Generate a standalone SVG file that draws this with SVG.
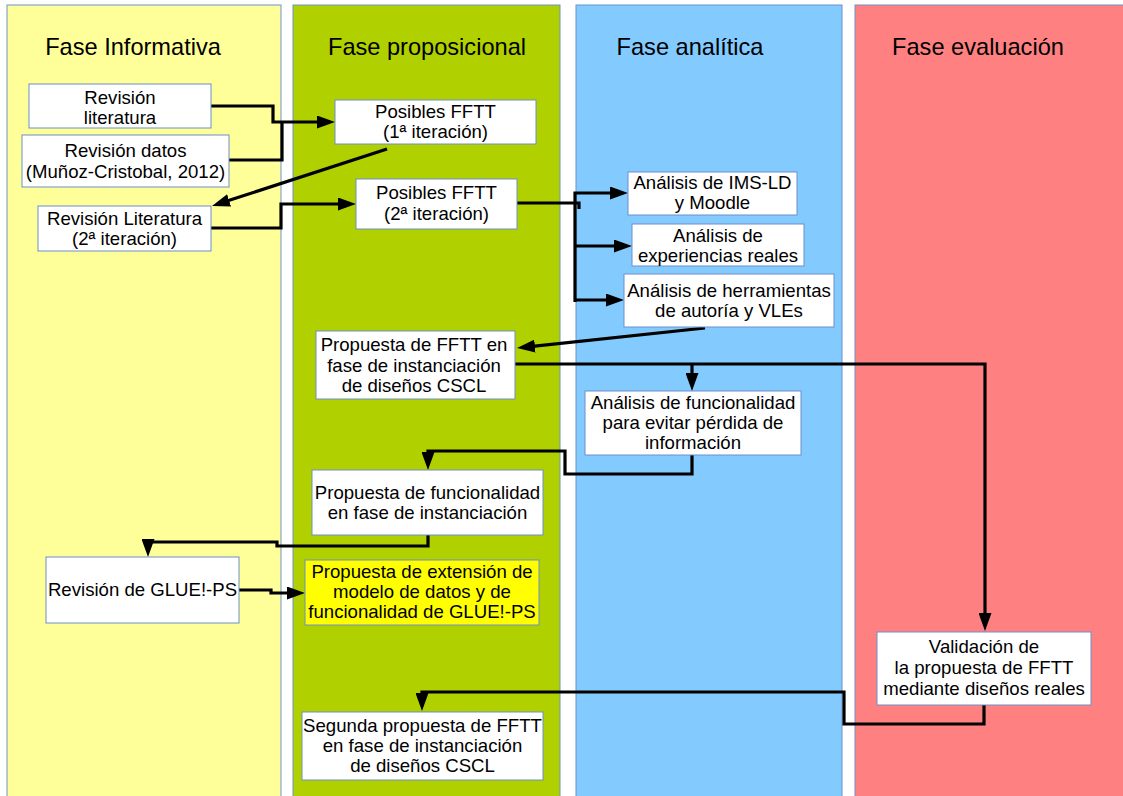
<svg xmlns="http://www.w3.org/2000/svg" width="1123" height="796" viewBox="0 0 1123 796">
  <style>
    .lane { stroke: #6d93cc; stroke-width: 1; }
    .title { font-family: "Liberation Sans", Arial, sans-serif; font-size: 23.6px; fill: #000; text-anchor: middle; }
    .box { fill: #ffffff; stroke: #6d8fc9; stroke-width: 1; }
    .box.hl { fill: #ffff00; }
    .lbl { font-family: "Liberation Sans", Arial, sans-serif; font-size: 18.6px; fill: #000; text-anchor: middle; }
    .wire { fill: none; stroke: #000; stroke-width: 3.2; stroke-linejoin: miter; }
    .wire.arr { marker-end: url(#head); }
  </style>
  <defs>
    <marker id="head" viewBox="0 0 18 13" refX="12" refY="6.5" markerWidth="18" markerHeight="13" markerUnits="userSpaceOnUse" orient="auto">
      <path d="M0,0 L18,6.5 L0,13 z" fill="#000"/>
    </marker>
  </defs>

  <rect width="1123" height="796" fill="#ffffff"/>

  <!-- swimlanes -->
  <g id="lanes">
    <rect class="lane" x="7" y="5" width="274" height="800" fill="#ffff99"/>
    <rect class="lane" x="293" y="5" width="267" height="800" fill="#b0d000"/>
    <rect class="lane" x="576" y="5" width="266" height="800" fill="#83caff"/>
    <rect class="lane" x="855" y="5" width="275" height="800" fill="#ff8080"/>
    <text class="title" x="133" y="55">Fase Informativa</text>
    <text class="title" x="427" y="55">Fase proposicional</text>
    <text class="title" x="690" y="55">Fase analítica</text>
    <text class="title" x="978" y="55">Fase evaluación</text>
  </g>

  <!-- connectors -->
  <g id="connectors">
    <path class="wire arr" d="M211,106 H273 V122 H329"/>
    <path class="wire" d="M229,160 H282 V122"/>
    <path class="wire arr" d="M387,149 L217.7,204.1"/>
    <path class="wire arr" d="M211,228 H281 V204 H350"/>
    <path class="wire" d="M517,203 H579 V209"/>
    <path class="wire arr" d="M575,302 V193 H622"/>
    <path class="wire arr" d="M575,246 H626"/>
    <path class="wire arr" d="M575,300 H618"/>
    <path class="wire arr" d="M705,328 L523,347.4"/>
    <path class="wire arr" d="M515,364 H985 V625"/>
    <path class="wire arr" d="M692,364 V385"/>
    <path class="wire arr" d="M692,455 V474 H565 V451 H428 V464"/>
    <path class="wire arr" d="M428,535 V546 H277 V542 H148 V551"/>
    <path class="wire arr" d="M239,590 H271 V593 H299"/>
    <path class="wire arr" d="M984,705 V724 H844 V692 H422 V705"/>
  </g>

  <!-- nodes -->
  <g id="rev-literatura">
    <rect class="box" x="29" y="84" width="182" height="44"/>
    <text class="lbl" x="120" y="104">Revisión</text>
    <text class="lbl" x="120" y="124">literatura</text>
  </g>
  <g id="rev-datos">
    <rect class="box" x="22" y="135" width="207" height="52"/>
    <text class="lbl" x="125.5" y="157">Revisión datos</text>
    <text class="lbl" x="125.5" y="178">(Muñoz-Cristobal, 2012)</text>
  </g>
  <g id="rev-literatura-2">
    <rect class="box" x="38" y="206" width="173" height="45"/>
    <text class="lbl" x="124.5" y="225">Revisión Literatura</text>
    <text class="lbl" x="124.5" y="245">(2ª iteración)</text>
  </g>
  <g id="fftt-1">
    <rect class="box" x="335" y="100" width="201" height="44"/>
    <text class="lbl" x="435.5" y="118">Posibles FFTT</text>
    <text class="lbl" x="435.5" y="138">(1ª iteración)</text>
  </g>
  <g id="fftt-2">
    <rect class="box" x="356" y="179" width="161" height="50"/>
    <text class="lbl" x="436.5" y="199">Posibles FFTT</text>
    <text class="lbl" x="436.5" y="220">(2ª iteración)</text>
  </g>
  <g id="analisis-imsld">
    <rect class="box" x="628" y="172" width="169" height="43"/>
    <text class="lbl" x="712.5" y="189">Análisis de IMS-LD</text>
    <text class="lbl" x="712.5" y="209">y Moodle</text>
  </g>
  <g id="analisis-experiencias">
    <rect class="box" x="632" y="224" width="172" height="42"/>
    <text class="lbl" x="718" y="242">Análisis de</text>
    <text class="lbl" x="718" y="262">experiencias reales</text>
  </g>
  <g id="analisis-herramientas">
    <rect class="box" x="624" y="274" width="210" height="53"/>
    <text class="lbl" x="729" y="297">Análisis de herramientas</text>
    <text class="lbl" x="729" y="317">de autoría y VLEs</text>
  </g>
  <g id="propuesta-fftt">
    <rect class="box" x="316" y="331" width="199" height="68"/>
    <text class="lbl" x="414" y="351">Propuesta de FFTT en</text>
    <text class="lbl" x="414" y="372">fase de instanciación</text>
    <text class="lbl" x="414" y="392">de diseños CSCL</text>
  </g>
  <g id="analisis-funcionalidad">
    <rect class="box" x="585" y="391" width="216" height="64"/>
    <text class="lbl" x="693" y="409">Análisis de funcionalidad</text>
    <text class="lbl" x="693" y="429">para evitar pérdida de</text>
    <text class="lbl" x="693" y="449">información</text>
  </g>
  <g id="propuesta-funcionalidad">
    <rect class="box" x="312" y="470" width="231" height="65"/>
    <text class="lbl" x="427.5" y="499">Propuesta de funcionalidad</text>
    <text class="lbl" x="427.5" y="519">en fase de instanciación</text>
  </g>
  <g id="rev-glue">
    <rect class="box" x="46" y="557" width="193" height="66"/>
    <text class="lbl" x="142.5" y="596">Revisión de GLUE!-PS</text>
  </g>
  <g id="propuesta-extension">
    <rect class="box hl" x="305" y="560" width="234" height="65"/>
    <text class="lbl" x="422" y="578">Propuesta de extensión de</text>
    <text class="lbl" x="422" y="598">modelo de datos y de</text>
    <text class="lbl" x="422" y="618">funcionalidad de GLUE!-PS</text>
  </g>
  <g id="validacion">
    <rect class="box" x="877" y="632" width="214" height="73"/>
    <text class="lbl" x="984" y="653">Validación de</text>
    <text class="lbl" x="984" y="674">la propuesta de FFTT</text>
    <text class="lbl" x="984" y="695">mediante diseños reales</text>
  </g>
  <g id="segunda-propuesta">
    <rect class="box" x="302" y="712" width="241" height="68"/>
    <text class="lbl" x="422.5" y="732">Segunda propuesta de FFTT</text>
    <text class="lbl" x="422.5" y="752">en fase de instanciación</text>
    <text class="lbl" x="422.5" y="772">de diseños CSCL</text>
  </g>
</svg>
